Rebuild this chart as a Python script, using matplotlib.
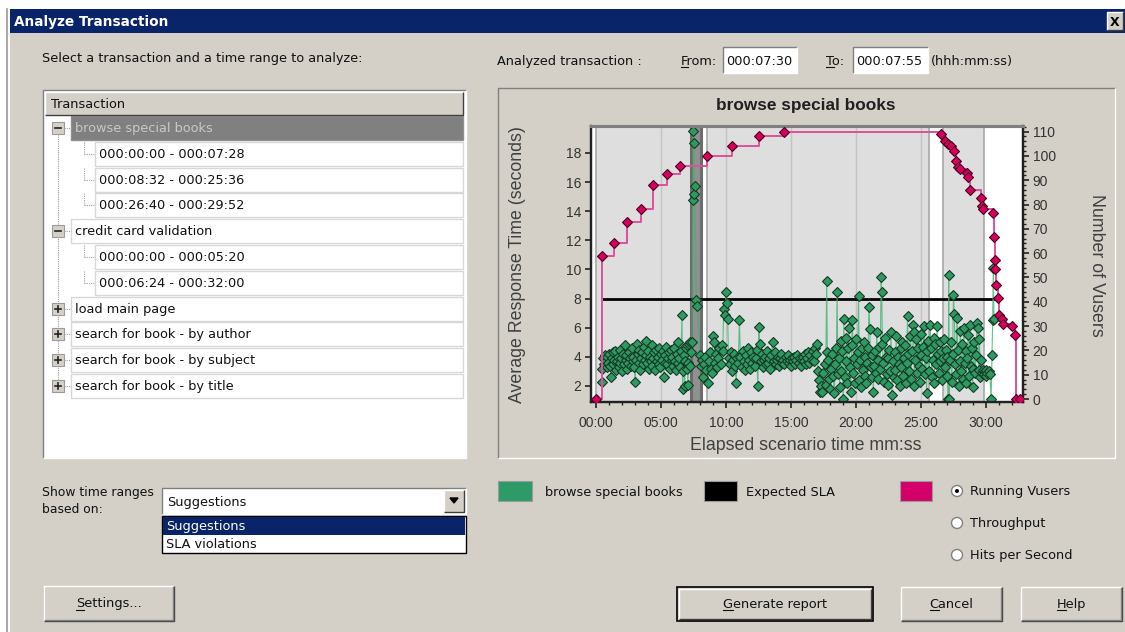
import matplotlib.pyplot as plt
from matplotlib.patches import Rectangle, Circle
from matplotlib.ticker import FixedLocator, FixedFormatter, MultipleLocator

# ---------------- data ----------------
# average response time of "browse special books": elapsed seconds / seconds
resp_sec = [
    27, 30, 33, 37, 41, 45, 49, 53, 57, 61, 65, 69, 73, 77, 81, 85, 89, 93, 97, 101,
    105, 109, 113, 117, 121, 125, 129, 133, 137, 141, 145, 149, 153, 157, 161, 165, 169, 173, 177, 181,
    185, 189, 193, 197, 201, 205, 209, 213, 217, 221, 225, 229, 233, 237, 241, 245, 249, 253, 257, 261,
    265, 269, 273, 277, 281, 285, 289, 293, 297, 301, 305, 309, 313, 317, 321, 325, 329, 333, 337, 341,
    345, 349, 353, 357, 361, 365, 369, 373, 377, 381, 385, 389, 393, 397, 400, 403, 406, 409, 412, 415,
    418, 421, 424, 427, 430, 433, 436, 439, 443, 447, 449, 451, 454, 457, 463, 468,
    480, 485, 490, 495, 500, 505, 510, 515, 520, 525, 530, 535, 540, 545, 550, 555, 560, 565, 570, 575,
    580, 585, 590, 595, 600, 604, 608, 612, 617, 622, 627, 632, 637, 642, 647, 652, 657, 662, 667, 672,
    677, 682, 687, 692, 697, 702, 707, 712, 717, 722, 727, 732, 737, 742, 747, 752, 755, 760, 765, 770,
    775, 780, 785, 790, 795, 800, 805, 810, 815, 820, 825, 830, 835, 840, 845, 850, 855, 860, 865, 870,
    875, 880, 885, 890, 895, 900, 905, 910, 915, 920, 925, 930, 935, 940, 945, 950, 955, 960, 965, 970,
    975, 980, 985, 990, 995, 1000, 1005, 1010, 1015, 1020,
    1025, 1030, 1035, 1040, 1045, 1050, 1055, 1060, 1065, 1068, 1072, 1076, 1080, 1085, 1090, 1095, 1100, 1105, 1110, 1113,
    1117, 1121, 1125, 1129, 1133, 1137, 1141, 1144, 1148, 1152, 1156, 1160, 1164, 1168, 1172, 1176, 1180, 1184, 1188, 1192,
    1196, 1200, 1204, 1208, 1212, 1216, 1220, 1224, 1228, 1232, 1236, 1240, 1244, 1248, 1252, 1256, 1260, 1264, 1268, 1272,
    1276, 1280, 1284, 1288, 1292, 1296, 1300, 1304, 1308, 1312, 1316, 1319, 1322, 1326, 1330, 1334, 1338, 1342, 1346, 1350,
    1354, 1358, 1362, 1366, 1370, 1374, 1378, 1382, 1386, 1390, 1394, 1398, 1402, 1406, 1410, 1414, 1418, 1422, 1426, 1430,
    1434, 1438, 1442, 1446, 1450, 1454, 1458, 1462, 1466, 1470, 1474, 1478, 1482, 1486, 1490, 1494, 1498, 1502, 1506, 1510,
    1514, 1518, 1522, 1526, 1530, 1534, 1538, 1542, 1546, 1550, 1554, 1558, 1562, 1566, 1570, 1574, 1578, 1582, 1586, 1590,
    1594, 1598, 1602, 1606, 1610, 1614, 1618, 1622, 1626, 1628, 1631, 1634, 1638, 1642, 1646, 1650, 1654, 1658, 1662, 1666,
    1670, 1674, 1678, 1682, 1686, 1690, 1694, 1698, 1702, 1706, 1710, 1714, 1718, 1722, 1726, 1730, 1734, 1738, 1742, 1746,
    1750, 1754, 1758, 1762, 1766, 1770, 1774, 1778, 1782, 1786, 1790, 1794, 1798, 1802, 1806, 1812, 1818, 1824, 1828, 1831,
    1834, 1837,
]
resp_val = [
    2.3, 3.2, 3.9, 3.5, 4.1, 3.7, 3.3, 4.0, 3.6, 4.2, 3.4, 2.6, 3.9, 4.3, 3.5, 3.8, 4.4, 3.1, 3.7, 4.0,
    3.3, 4.5, 3.6, 3.9, 3.0, 4.2, 3.5, 4.8, 3.8, 4.1, 3.2, 3.6, 4.3, 3.9, 3.4, 4.6, 3.7, 4.0, 3.3, 2.3,
    3.8, 4.9, 4.2, 3.6, 4.5, 3.1, 3.9, 4.3, 3.5, 4.7, 3.8, 4.1, 5.1, 3.6, 4.4, 3.2, 4.0, 3.7, 4.8, 3.4,
    3.9, 4.3, 3.1, 4.5, 3.7, 4.0, 3.5, 4.6, 3.3, 4.2, 3.8, 4.4, 2.6, 3.6, 4.1, 4.7, 3.5, 3.9, 4.3, 3.2,
    4.5, 3.8, 4.0, 3.4, 4.6, 3.7, 3.1, 4.2, 3.6, 5.0, 3.9, 3.3, 4.4, 6.9, 1.8, 3.0, 4.1, 2.0, 3.7, 4.6,
    3.2, 4.8, 2.1, 3.6, 4.9, 3.4, 5.0, 4.3, 5.0, 14.75, 19.5, 18.7, 15.2, 15.7, 7.9, 7.5,
    4.1, 3.4, 3.8, 2.6, 3.5, 4.0, 3.1, 2.2, 3.7, 4.3, 3.2, 2.9, 5.4, 5.0, 3.6, 4.2, 3.3, 3.9, 4.6, 3.5,
    4.8, 4.4, 7.3, 6.9, 8.47, 7.7, 6.6, 3.9, 3.5, 4.3, 3.0, 3.8, 4.2, 3.4, 2.2, 3.9, 3.6, 6.5, 4.0, 3.3,
    4.4, 3.7, 3.1, 4.1, 3.5, 4.6, 3.8, 3.2, 4.3, 3.6, 4.0, 3.4, 3.9, 4.5, 1.97, 6.07, 4.9, 3.7, 4.2, 3.3,
    3.8, 4.0, 3.5, 4.4, 3.6, 3.9, 3.2, 4.1, 5.0, 3.7, 4.3, 3.5, 3.8, 4.0, 3.4, 3.9, 4.2, 3.6, 3.8, 3.5,
    4.0, 3.7, 4.1, 3.6, 3.8, 3.4, 3.9, 3.7, 4.0, 3.5, 3.8, 4.1, 3.6, 3.9, 3.4, 3.8, 4.0, 3.7, 4.2, 3.5,
    3.9, 4.3, 3.6, 4.1, 3.8, 4.4, 3.7, 4.6, 4.2, 4.86,
    3.0, 2.4, 1.57, 2.0, 1.6, 2.9, 3.5, 2.1, 9.2, 4.35, 3.8, 2.5, 1.8, 3.2, 4.2, 2.7, 1.5, 3.5, 4.6, 8.47,
    2.8, 3.9, 1.9, 5.1, 3.0, 4.4, 1.1, 6.6, 2.6, 3.7, 5.3, 2.2, 4.6, 6.0, 3.3, 1.6, 4.8, 6.5, 2.9, 3.9,
    2.2, 5.2, 3.5, 4.3, 8.2, 2.4, 3.8, 1.9, 4.6, 3.1, 5.0, 2.7, 4.0, 2.2, 3.6, 4.6, 7.4, 5.9, 3.3, 2.6,
    4.1, 1.6, 3.4, 4.4, 2.9, 5.7, 3.8, 2.5, 4.7, 3.2, 9.5, 8.47, 4.9, 3.6, 2.3, 5.3, 4.0, 2.8, 3.9, 2.1,
    4.5, 3.0, 5.7, 1.4, 3.7, 2.6, 4.3, 3.1, 5.4, 2.4, 4.0, 3.5, 2.0, 4.6, 3.3, 5.0, 2.7, 3.9, 4.8, 2.2,
    3.6, 6.8, 4.2, 3.0, 5.4, 2.5, 4.4, 6.2, 5.7, 2.0, 3.8, 5.2, 2.9, 4.6, 3.4, 2.3, 4.1, 5.6, 3.2, 4.7,
    6.1, 2.8, 3.9, 1.5, 4.4, 5.1, 3.0, 6.2, 4.6, 2.6, 3.8, 5.3, 2.2, 4.9, 3.5, 6.1, 4.2, 2.9, 3.7, 5.0,
    4.4, 2.4, 3.9, 5.2, 3.3, 4.5, 2.7, 4.0, 1.1, 9.6, 1.1, 3.8, 5.0, 2.3, 4.2, 8.24, 6.95, 3.5, 2.8, 6.7,
    4.5, 2.0, 3.7, 5.8, 3.0, 4.9, 2.5, 6.0, 3.6, 4.4, 2.2, 3.9, 5.5, 2.7, 6.2, 3.4, 4.6, 1.9, 3.2, 5.0,
    2.9, 4.1, 6.3, 6.0, 3.1, 5.2, 2.6, 3.8, 2.9, 3.1, 2.8, 3.0, 2.7, 3.1, 2.9, 3.0, 2.8, 1.1, 4.1, 6.5,
    10.1, 6.6,
]

# running vusers: elapsed seconds / number of vusers (step graph)
vusers_sec = [0, 26, 85, 145, 209, 265, 326, 390, 511, 630, 752, 869, 1594, 1609, 1624, 1638, 1653,
              1660, 1672, 1680, 1711, 1718, 1726, 1777, 1784, 1788, 1834, 1838, 1841, 1842, 1845,
              1857, 1860, 1872, 1878, 1918, 1932, 1937, 1956]
vusers_val = [0, 59, 64, 73, 78, 88, 92.5, 96, 100, 104, 108, 110, 109, 106, 105, 104, 102,
              98, 95.5, 94.5, 93, 91.5, 86, 82.5, 79.5, 78, 76.5, 66.5, 57, 53.5, 47,
              41.5, 34.5, 33, 31, 30, 26.5, 0, 0]

sla_value = 8
sla_span_sec = (28, 1843)
suggest_ranges_sec = [(0, 448), (512, 1536), (1600, 1792)]
selected_sec = (450, 475)

x_ticks_min = [0, 5, 10, 15, 20, 25, 30]
x_tick_labels = ["00:00", "05:00", "10:00", "15:00", "20:00", "25:00", "30:00"]
left_ticks = [2, 4, 6, 8, 10, 12, 14, 16, 18]
right_ticks = [0, 10, 20, 30, 40, 50, 60, 70, 80, 90, 100, 110]

tree_rows = [
    ("browse special books", 0, "-"),
    ("000:00:00 - 000:07:28", 1, None),
    ("000:08:32 - 000:25:36", 1, None),
    ("000:26:40 - 000:29:52", 1, None),
    ("credit card validation", 0, "-"),
    ("000:00:00 - 000:05:20", 1, None),
    ("000:06:24 - 000:32:00", 1, None),
    ("load main page", 0, "+"),
    ("search for book - by author", 0, "+"),
    ("search for book - by subject", 0, "+"),
    ("search for book - by title", 0, "+"),
]
radio_labels = ["Running Vusers", "Throughput", "Hits per Second"]

# ---------------- figure / dialog chrome ----------------
W, H = 1125, 632
WIN = "#d4d0c8"
UI = "DejaVu Sans"
CH = "Liberation Sans"
FS = 9.3

fig = plt.figure(figsize=(11.25, 6.32), dpi=100)
fig.patch.set_facecolor("white")
bg = fig.add_axes([0, 0, 1, 1])
bg.set_xlim(0, W)
bg.set_ylim(H, 0)
bg.axis("off")
renderer = fig.canvas.get_renderer()


def rect(x0, y0, x1, y1, fc, ec="none", lw=1.0, z=1):
    bg.add_patch(Rectangle((x0, y0), x1 - x0, y1 - y0, fc=fc, ec=ec, lw=lw, zorder=z))


def bevel(x0, y0, x1, y1, sunken=False, z=3):
    tl, br = ("#808080", "#ffffff") if sunken else ("#ffffff", "#404040")
    bg.plot([x0, x0, x1], [y1, y0, y0], color=tl, lw=1, zorder=z, solid_capstyle="butt")
    bg.plot([x0, x1, x1], [y1, y1, y0], color=br, lw=1, zorder=z, solid_capstyle="butt")


def txt(x, y, s, size=FS, under=False, **kw):
    kw.setdefault("color", "#111111")
    kw.setdefault("family", UI)
    kw.setdefault("ha", "left")
    t = bg.text(x, y, s, fontsize=size, va="baseline", zorder=6, **kw)
    if under:
        bb = t.get_window_extent(renderer)
        c = bg.text(0, 0, s[0], fontsize=size, family=kw["family"])
        cw = c.get_window_extent(renderer).width
        c.remove()
        inv = bg.transData.inverted()
        xa = inv.transform((bb.x0, 0))[0]
        xb = inv.transform((bb.x0 + cw, 0))[0]
        bg.plot([xa, xb], [y + 2, y + 2], color=kw["color"], lw=0.8, zorder=6)
    return t


def button(x0, y0, x1, y1, label, default=False):
    rect(x0, y0, x1, y1, WIN, z=2)
    if default:
        rect(x0, y0, x1, y1, "none", ec="#000000", lw=1.2, z=4)
        bevel(x0 + 2, y0 + 2, x1 - 2, y1 - 2)
    else:
        bevel(x0, y0, x1, y1)
        bg.plot([x0 + 1, x1 - 1, x1 - 1], [y1 - 1, y1 - 1, y0 + 1], color="#808080", lw=1, zorder=3)
    txt((x0 + x1) / 2, (y0 + y1) / 2 + 4, label, under=True, ha="center")


# window background
rect(10, 9, W, H, WIN, z=0)
bg.plot([7, 7], [9, H], color="#9a9a9a", lw=1.2, zorder=1)
# title bar
rect(10, 9, W, 33, "#0a246a", z=1)
txt(14, 26, "Analyze Transaction", size=9.8, color="white", weight="bold")
rect(1107, 12, 1123, 30, WIN, z=2)
bevel(1107, 12, 1123, 30)
txt(1115, 26, "X", size=9, weight="bold", ha="center", color="black")

txt(42, 62, "Select a transaction and a time range to analyze:")

# tree view
rect(43, 90, 466, 458, "white", z=1)
bevel(43, 90, 466, 458, sunken=True)
rect(45, 92, 463, 115, WIN, z=2)
bevel(45, 92, 463, 115)
txt(51, 108, "Transaction")
row_y0, row_h = 128, 25.8
for i, (label, level, sign) in enumerate(tree_rows):
    yc = row_y0 + i * row_h
    xc = 71 if level == 0 else 95
    selected = i == 0
    rect(xc, yc - 12, 463, yc + 12, "#808080" if selected else "white",
         ec="#8f8f8f" if selected else "#d8d8d8", lw=1, z=2)
    txt(xc + 4, yc + 4, label, color="#c8c8c8" if selected else "#111111")
    if level == 1:
        bg.plot([84, 84], [yc - 12, yc], color="#a0a0a0", lw=0.8, ls=(0, (1, 1)), zorder=3)
        bg.plot([84, 95], [yc, yc], color="#a0a0a0", lw=0.8, ls=(0, (1, 1)), zorder=3)
    if sign:
        bg.plot([64, 71], [yc, yc], color="#a0a0a0", lw=0.8, ls=(0, (1, 1)), zorder=3)
        rect(52, yc - 6, 64, yc + 6, WIN, ec="#9a9a9a", lw=0.8, z=4)
        bg.plot([55, 61], [yc, yc], color="#222222", lw=1.2, zorder=5)
        if sign == "+":
            bg.plot([58, 58], [yc - 3, yc + 3], color="#222222", lw=1.2, zorder=5)
bg.plot([58, 58], [row_y0 + 6, row_y0 + 10 * row_h - 6], color="#a0a0a0",
        lw=0.8, ls=(0, (1, 1)), zorder=3)

# time range combo
txt(42, 496, "Show time ranges", size=8.9)
txt(42, 513, "based on:", size=8.9)
rect(162, 488, 466, 514, "white", z=1)
bevel(162, 488, 466, 514, sunken=True)
txt(167, 506, "Suggestions")
rect(444, 490, 464, 512, WIN, z=2)
bevel(444, 490, 464, 512)
bg.fill([450, 458, 454], [498, 498, 503], color="black", zorder=4)
rect(162, 516, 466, 553, "white", ec="#000000", lw=1, z=2)
rect(163, 517, 465, 535, "#0a246a", z=3)
txt(166, 530, "Suggestions", color="white")
txt(166, 548, "SLA violations")

button(44, 586, 174, 621, "Settings...")
button(677, 587, 873, 621, "Generate report", default=True)
button(901, 587, 1002, 621, "Cancel")
button(1021, 587, 1122, 621, "Help")

# analyzed range fields
txt(497, 65, "Analyzed transaction :")
txt(681, 65, "From:", under=True)
rect(723, 47, 797, 73, "white", z=1)
bevel(723, 47, 797, 73, sunken=True)
txt(726, 65, "000:07:30")
txt(826, 65, "To:", under=True)
rect(853, 47, 928, 73, "white", z=1)
bevel(853, 47, 928, 73, sunken=True)
txt(856, 65, "000:07:55")
txt(931, 65, "(hhh:mm:ss)")

# chart panel
rect(498, 88, 1115, 458, WIN, z=1)
bevel(498, 88, 1115, 458, sunken=True)
txt(806, 110, "browse special books", size=12.4, family=CH, weight="bold",
    ha="center", color="#202020")
bg.text(517, 265, "Average Response Time (seconds)", rotation=90, fontsize=12.8,
        family=CH, color="#404040", ha="center", va="center", zorder=6)
bg.text(1097, 265, "Number of Vusers", rotation=270, fontsize=12.8,
        family=CH, color="#404040", ha="center", va="center", zorder=6)
bg.text(806, 445, "Elapsed scenario time mm:ss", fontsize=12.8, family=CH,
        color="#404040", ha="center", va="center", zorder=6)

# legend
rect(498, 481, 532, 501, "#2e9a68", ec="#9a9a9a", lw=0.8, z=2)
txt(545, 496, "browse special books")
rect(704, 481, 737, 501, "black", ec="#9a9a9a", lw=0.8, z=2)
txt(746, 496, "Expected SLA")
rect(900, 481, 932, 501, "#d4006a", ec="#9a9a9a", lw=0.8, z=2)
for i, lab in enumerate(radio_labels):
    yc = 491 + i * 32
    bg.add_patch(Circle((957, yc), 5.5, fc="white", ec="#808080", lw=1, zorder=4))
    if i == 0:
        bg.add_patch(Circle((957, yc), 2, fc="black", ec="none", zorder=5))
    txt(970, yc + 4, lab)

# ---------------- the chart itself ----------------
L, R, T, B = 591, 1023, 126, 402
ax = fig.add_axes([L / W, 1 - B / H, (R - L) / W, (B - T) / H])
ax.set_zorder(2)
ax.set_facecolor("white")
ax.set_xlim(-0.38, 32.85)
ax.set_ylim(0.9, 19.85)

for a, b in suggest_ranges_sec:
    ax.axvspan(a / 60, b / 60, color="#dedede", lw=0, zorder=0)
    ax.axvline(a / 60, color="#a8a8a8", lw=1.2, zorder=0.5)
    ax.axvline(b / 60, color="#a8a8a8", lw=1.2, zorder=0.5)
for m in [5, 10, 15, 20, 25]:
    ax.axvline(m, color="#c4c4c4", lw=1, zorder=0.4)
# selected range, drawn as the thick grey band of the original
ax.axvspan(selected_sec[0] / 60 - 0.2, selected_sec[1] / 60 + 0.2, fc="#909090",
           ec="#6c6c6c", lw=2.2, zorder=0.6)

ax.hlines(sla_value, sla_span_sec[0] / 60, sla_span_sec[1] / 60, color="black", lw=2, zorder=2)

resp_min = [s / 60 for s in resp_sec]
ax.plot(resp_min, resp_val, color="#3cb371", lw=0.8, alpha=0.8, zorder=3)
ax.plot(resp_min, resp_val, ls="none", marker="D", ms=4.8, mfc="#2e9a62",
        mec="#143a26", mew=0.8, zorder=4)

ax2 = ax.twinx()
ax2.set_ylim(-1.2, 112.3)
vu_min = [s / 60 for s in vusers_sec]
ax2.step(vu_min, vusers_val, where="post", color="#e0509a", lw=1.4, zorder=3)
ax2.plot(vu_min, vusers_val, ls="none", marker="D", ms=5.4, mfc="#d6005e",
         mec="#4a0020", mew=0.8, zorder=4)

ax.xaxis.set_major_locator(FixedLocator(x_ticks_min))
ax.xaxis.set_major_formatter(FixedFormatter(x_tick_labels))
ax.xaxis.set_minor_locator(MultipleLocator(1))
ax.yaxis.set_major_locator(FixedLocator(left_ticks))
ax2.yaxis.set_major_locator(FixedLocator(right_ticks))
ax2.yaxis.set_minor_locator(MultipleLocator(2))

for a in (ax, ax2):
    a.tick_params(which="major", length=4, width=1.2, labelsize=10,
                  labelcolor="#333333", color="#222222", pad=3)
    a.tick_params(which="minor", length=2.5, width=1, color="#222222")
    for s in a.spines.values():
        s.set_color("#222222")
        s.set_linewidth(1.6)
    a.spines["top"].set_color("#808080")
    a.spines["top"].set_linewidth(2.2)
    for lab in a.get_xticklabels() + a.get_yticklabels():
        lab.set_family(CH)
ax.tick_params(axis="x", pad=6)

fig.savefig("out.png", dpi=100, facecolor=fig.get_facecolor())
